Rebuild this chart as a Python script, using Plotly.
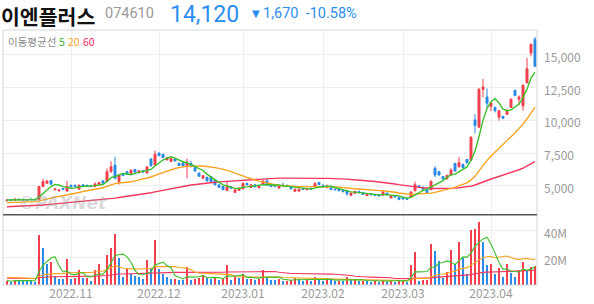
import plotly.graph_objects as go
import pandas as pd

# ---------------- data ----------------
month_idx = [16, 38, 59, 79, 99, 121]
month_labels = ["2022.11", "2022.12", "2023.01", "2023.02", "2023.03", "2023.04"]

opens = [3860, 3940, 3910, 3990, 3970, 3950, 3990, 3970, 3950, 4950,
         5200, 5400, 4700, 4620, 4800, 4600, 5050, 5050, 4750, 5080,
         5050, 5000, 4950, 5100, 5380, 5330, 6080, 6580, 5330, 5880,
         6080, 5950, 6250, 6000, 6150, 6000, 7050, 6600, 7500, 7400,
         6980, 6850, 7050, 6720, 6760, 6540, 6710, 6390, 5980, 5580,
         5650, 5700, 5450, 5080, 4950, 4650, 4930, 4500, 4650, 4770,
         5180, 4880, 5080, 4850, 5130, 5380, 5080, 5050, 4830, 5050,
         5050, 4950, 4580, 4600, 4800, 4700, 4820, 4950, 5250, 5000,
         4880, 4880, 4750, 4770, 4650, 4650, 4280, 4430, 4550, 4500,
         4250, 4400, 4350, 4330, 4280, 4450, 4080, 4250, 4130, 4100,
         4050, 4130, 4620, 5000, 4900, 4750, 4700, 6330, 6080, 5710,
         5580, 5830, 6710, 6460, 6640, 7010, 6960, 10030, 9480, 12360,
         11780, 11060, 10980, 10230, 10300, 10450, 10980, 12290, 11610, 11100,
         12870, 15130, 16180]
highs = [3950, 3960, 4080, 4020, 4010, 4000, 4030, 4000, 5000, 5530,
         5420, 5450, 4820, 4730, 4850, 5380, 5080, 5080, 5100, 5120,
         5080, 5030, 5250, 5300, 5420, 6330, 6880, 7215, 5900, 5950,
         6120, 6250, 6300, 6200, 6200, 6500, 7100, 7700, 7550, 7450,
         7180, 7100, 7100, 6750, 6800, 7090, 6900, 6420, 6000, 5800,
         5700, 5750, 5480, 5100, 4980, 5330, 4960, 4720, 4850, 5200,
         5250, 5100, 5100, 5000, 5400, 5600, 5100, 5080, 5020, 5250,
         5080, 4970, 4780, 4780, 4820, 4820, 4850, 5250, 5280, 5150,
         5100, 4900, 4780, 4790, 4680, 4680, 4470, 4600, 4650, 4530,
         4420, 4420, 4370, 4350, 4680, 4480, 4270, 4270, 4150, 4120,
         4080, 4600, 5330, 5050, 4950, 4780, 5450, 6500, 6150, 5750,
         5850, 6350, 6750, 7210, 6700, 7050, 8750, 10480, 12450, 13150,
         12420, 11400, 11050, 10800, 10350, 10850, 11650, 12300, 11900, 12750,
         14750, 15850, 16350]
lows = [3840, 3880, 3900, 3940, 3930, 3910, 3950, 3920, 3930, 4900,
        5150, 5100, 4650, 4580, 4680, 4580, 4900, 4920, 4700, 4950,
        4930, 4920, 4930, 5080, 5180, 5300, 6000, 5500, 5100, 5750,
        5850, 5930, 6000, 5980, 6020, 5900, 6450, 6550, 7280, 7130,
        6950, 6830, 6880, 6520, 6500, 5580, 6430, 6100, 5700, 5550,
        5350, 5300, 5050, 4860, 4680, 4600, 4800, 4480, 4630, 4750,
        5050, 4860, 4900, 4830, 5100, 5000, 4920, 4930, 4800, 4980,
        4950, 4750, 4560, 4580, 4700, 4680, 4730, 4930, 5080, 4900,
        4850, 4700, 4680, 4600, 4520, 4250, 4260, 4420, 4450, 4320,
        4230, 4300, 4250, 4200, 4260, 4300, 4060, 4120, 3930, 3980,
        3950, 4100, 4600, 4850, 4700, 4450, 4680, 5660, 5780, 5480,
        5450, 5800, 6100, 6400, 6350, 6700, 6900, 9000, 9400, 11760,
        10930, 10700, 10600, 9980, 10080, 10400, 10950, 11850, 11150, 10730,
        12800, 14870, 14100]
closes = [3920, 3900, 3970, 3950, 3940, 3930, 3960, 3940, 4950, 5330,
          5380, 5130, 4770, 4700, 4720, 4950, 4930, 4950, 5050, 4980,
          4950, 4950, 5150, 5250, 5200, 6080, 6460, 5580, 5830, 5780,
          5880, 6200, 6050, 6150, 6050, 6450, 6550, 7400, 7300, 7150,
          7140, 7080, 6900, 6550, 6520, 6760, 6460, 6130, 5730, 5780,
          5380, 5330, 5080, 4880, 4700, 4950, 4820, 4700, 4830, 5200,
          5080, 5080, 4920, 4980, 5380, 5050, 4950, 4950, 5000, 5000,
          4980, 4770, 4750, 4750, 4720, 4800, 4750, 5200, 5100, 4920,
          4950, 4720, 4700, 4620, 4550, 4400, 4450, 4580, 4480, 4350,
          4400, 4320, 4270, 4230, 4530, 4320, 4250, 4150, 3950, 4000,
          3980, 4530, 5080, 4900, 4750, 4480, 5330, 5830, 5830, 5530,
          5800, 6200, 6130, 6760, 6390, 6760, 8720, 9600, 12360, 12540,
          11300, 11310, 10730, 10730, 10150, 10730, 11610, 11900, 11780, 12660,
          13920, 15790, 14120]
volume_m = [3.4, 2.2, 4.1, 3.7, 3.2, 3.0, 2.8, 2.2, 37.4, 27.7,
            15.3, 16.8, 7.1, 4.5, 4.4, 19.2, 4.5, 5.0, 11.2, 5.1,
            5.3, 2.9, 11.2, 16.0, 4.4, 22.4, 27.7, 38.0, 20.0, 5.8,
            12.4, 8.0, 7.0, 5.8, 4.4, 18.5, 12.6, 33.0, 12.0, 8.4,
            5.8, 4.4, 4.5, 4.0, 3.5, 13.6, 3.5, 4.5, 5.5, 7.5,
            5.5, 4.5, 5.0, 4.0, 4.5, 14.8, 4.0, 6.5, 5.0, 8.0,
            4.5, 4.8, 3.5, 4.5, 11.2, 6.0, 4.0, 3.5, 4.5, 3.0,
            3.2, 3.5, 5.0, 4.5, 3.0, 3.5, 3.0, 6.3, 3.5, 3.0,
            5.0, 3.5, 3.0, 3.2, 3.0, 5.8, 3.5, 3.8, 3.0, 3.2,
            3.0, 2.5, 3.0, 2.5, 4.0, 2.5, 4.0, 2.5, 3.0, 3.2,
            2.5, 15.1, 24.8, 2.8, 3.5, 3.5, 30.7, 25.3, 18.0, 5.5,
            9.5, 26.0, 16.0, 31.9, 20.4, 8.5, 41.0, 41.7, 47.0, 31.9,
            15.0, 16.0, 8.0, 12.4, 6.4, 16.0, 9.0, 5.8, 11.0, 17.0,
            11.4, 13.4, 14.5]

# moving-average values at the start of the window
ma20_head = [3720, 3730, 3742, 3754, 3765, 3776, 3788, 3800, 3860, 3940,
             4020, 4090, 4140, 4190, 4240, 4300, 4360, 4420, 4490]
ma60_head = [3409, 3418, 3429, 3438, 3448, 3458, 3468, 3477, 3504, 3536,
             3569, 3598, 3621, 3642, 3664, 3690, 3716, 3741, 3769, 3795,
             3821, 3847, 3876, 3907, 3937, 3982, 4033, 4069, 4110, 4149,
             4191, 4237, 4281, 4327, 4371, 4422, 4475, 4541, 4606, 4669,
             4731, 4793, 4851, 4903, 4955, 5011, 5062, 5108, 5147, 5186,
             5219, 5252, 5280, 5304, 5326, 5352, 5375, 5397, 5421]
vol_ma20_head = [5.68, 5.5, 5.4, 5.3, 5.2, 5.04, 4.89, 4.71, 6.29, 7.39,
                 7.86, 8.41, 8.48, 8.41, 8.34, 9.01, 8.95, 8.9, 9.18]
vol_ma60_head = [5.07, 5.02, 5.01, 4.98, 4.95, 4.92, 4.88, 4.83, 5.37, 5.75,
                 5.92, 6.11, 6.14, 6.13, 6.12, 6.36, 6.35, 6.35, 6.45, 6.45,
                 6.45, 6.41, 6.52, 6.70, 6.69, 6.97, 7.35, 7.90, 8.15, 8.16,
                 8.28, 8.33, 8.36, 8.37, 8.36, 8.58, 8.71, 9.17, 9.29, 9.34,
                 9.36, 9.34, 9.33, 9.32, 9.29, 9.43, 9.40, 9.39, 9.40, 9.44,
                 9.45, 9.44, 9.44, 9.42, 9.41, 9.57, 9.55, 9.57, 9.57]

price_ticks = [5000, 7500, 10000, 12500, 15000]
vol_ticks = [20, 40]
vol_tick_labels = ["20M", "40M"]

# ---------------- derived series ----------------
n = len(closes)
idx = list(range(n))
c = pd.Series(closes, dtype=float)
v = pd.Series(volume_m, dtype=float)

ma5 = c.rolling(5, min_periods=1).mean()
ma20 = c.rolling(20).mean()
ma20.iloc[:len(ma20_head)] = ma20_head
ma60 = c.rolling(60).mean()
ma60.iloc[:len(ma60_head)] = ma60_head

vma5 = v.rolling(5, min_periods=1).mean()
vma20 = v.rolling(20).mean()
vma20.iloc[:len(vol_ma20_head)] = vol_ma20_head
vma60 = v.rolling(60).mean()
vma60.iloc[:len(vol_ma60_head)] = vol_ma60_head

RED = "#f33f4e"
BLUE = "#2a8ae6"
GREEN = "#3cbf2a"
ORANGE = "#f8a320"
PINK = "#f2385e"
GRID = "#efefef"
TXT = "#9a9a9a"
FONT = "Noto Sans CJK KR"

vol_colors = [RED] + [RED if volume_m[i] >= volume_m[i - 1] else BLUE for i in range(1, n)]

fig = go.Figure()

fig.add_trace(go.Candlestick(
    x=idx, open=opens, high=highs, low=lows, close=closes,
    increasing=dict(line=dict(color=RED, width=1), fillcolor=RED),
    decreasing=dict(line=dict(color=BLUE, width=1), fillcolor=BLUE),
    whiskerwidth=0, xaxis="x", yaxis="y", showlegend=False, hoverinfo="skip"))

for s, col in [(ma60, PINK), (ma20, ORANGE), (ma5, GREEN)]:
    fig.add_trace(go.Scatter(x=idx, y=s, mode="lines", line=dict(color=col, width=1.4),
                             xaxis="x", yaxis="y", showlegend=False, hoverinfo="skip"))

fig.add_trace(go.Bar(x=idx, y=volume_m, marker=dict(color=vol_colors, line=dict(width=0)),
                     width=0.72, xaxis="x", yaxis="y2", showlegend=False, hoverinfo="skip"))
for s, col in [(vma60, PINK), (vma20, ORANGE), (vma5, GREEN)]:
    fig.add_trace(go.Scatter(x=idx, y=s, mode="lines", line=dict(color=col, width=1.1),
                             xaxis="x", yaxis="y2", showlegend=False, hoverinfo="skip"))

split = 71 / 258

fig.update_layout(
    width=594, height=304,
    margin=dict(l=3, r=57, t=30, b=16),
    paper_bgcolor="white", plot_bgcolor="white",
    font=dict(family=FONT, color=TXT, size=12),
    bargap=0,
    xaxis=dict(domain=[0, 1], range=[-1, 132.5], anchor="y2",
               tickmode="array", tickvals=month_idx, ticktext=month_labels,
               showgrid=True, gridcolor=GRID, gridwidth=1, zeroline=False,
               ticks="", showline=False, rangeslider=dict(visible=False),
               tickfont=dict(size=12, color=TXT, family=FONT)),
    yaxis=dict(domain=[split, 1], range=[2792, 16884], side="right", anchor="x",
               tickmode="array", tickvals=price_ticks, tickformat=",",
               showgrid=True, gridcolor=GRID, zeroline=False, ticks="",
               ticklabelstandoff=6, ticklabelshift=3,
               tickfont=dict(size=12, color=TXT, family=FONT)),
    yaxis2=dict(domain=[0, split], range=[0, 51.8], side="right", anchor="x",
                tickmode="array", tickvals=vol_ticks, ticktext=vol_tick_labels,
                showgrid=True, gridcolor=GRID, zeroline=False, ticks="",
                ticklabelstandoff=6, ticklabelshift=3,
                tickfont=dict(size=12, color=TXT, family=FONT)),
)

# frame and panel separator
fig.add_shape(type="rect", xref="paper", yref="paper", x0=0, x1=1, y0=0, y1=1,
              line=dict(color="#d6d6d6", width=1), layer="above")
fig.add_shape(type="line", xref="paper", yref="paper", x0=0, x1=1, y0=split, y1=split,
              line=dict(color="#555555", width=1.5), layer="above")


def px_x(px):
    return (px - 3) / 534


def px_y(py):
    return (288 - py) / 258


LATIN = "Roboto"
ann = [
    # text, left px, top px, size, colour, family
    ("<b>이엔플러스</b>", 0, 0, 20.5, "#111111", FONT),
    ("074610", 104, 4, 14.5, "#999999", LATIN),
    ("14,120", 169, 0, 23, "#2b8ef0", LATIN),
    ("▼", 251, 7, 10, "#2b8ef0", "DejaVu Sans"),
    ("1,670  -10.58%", 262, 4, 14.5, "#2b8ef0", LATIN),
    ("이동평균선", 7, 33, 10.5, "#8a8a8a", FONT),
    ("5", 58, 33, 10.5, "#33b82a", FONT),
    ("20", 67, 33, 10.5, "#f8a320", FONT),
    ("60", 82, 33, 10.5, "#ee2a58", FONT),
]
for text, x, y, size, color, fam in ann:
    fig.add_annotation(text=text, xref="paper", yref="paper", x=px_x(x), y=px_y(y),
                       xanchor="left", yanchor="top", showarrow=False, borderpad=0,
                       font=dict(size=size, color=color, family=fam))

fig.add_annotation(text="<b><i>©PAXNet</i></b>", xref="paper", yref="paper",
                   x=px_x(16), y=px_y(205), xanchor="left", yanchor="middle",
                   showarrow=False, font=dict(size=17, color="rgba(150,150,150,0.35)", family="DejaVu Sans"))

fig.write_html("out.html")
